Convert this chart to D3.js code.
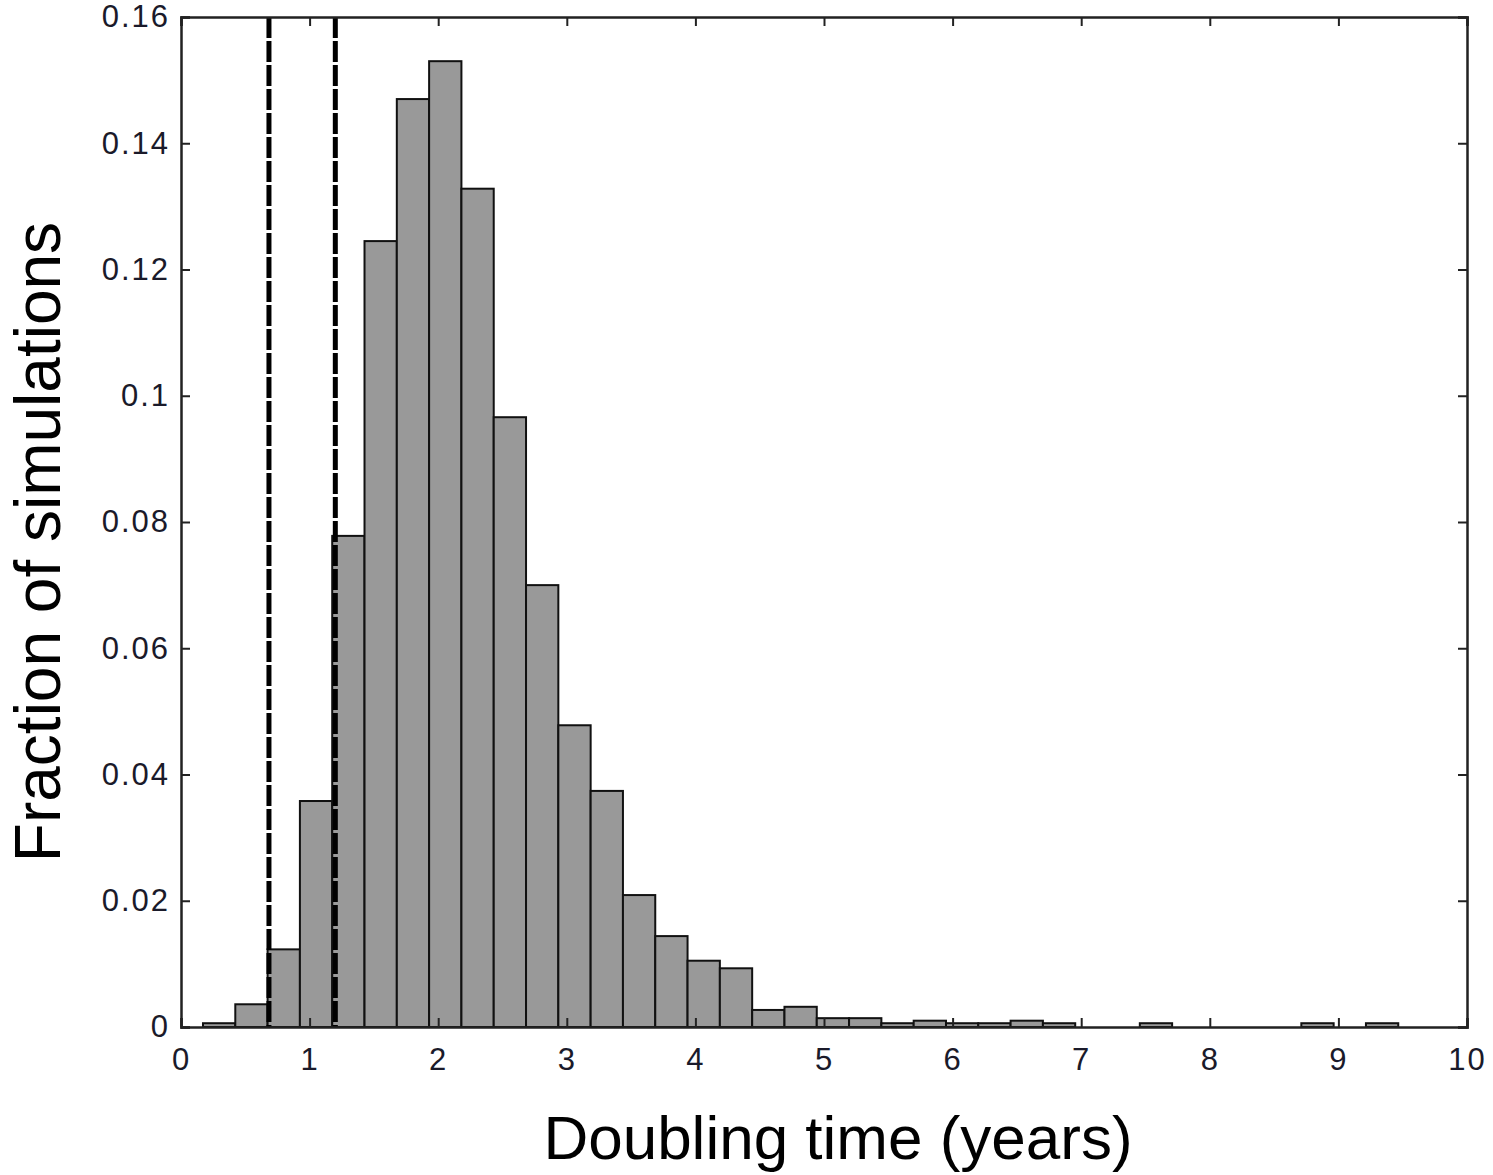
<!DOCTYPE html>
<html>
<head>
<meta charset="utf-8">
<script src="https://cdn.jsdelivr.net/npm/d3@7"></script>
<style>
body { margin: 0; background: #fff; }
svg { display: block; }
</style>
</head>
<body>
<div id="chart"></div>
<script>
// histogram of doubling times
var binStart = 0.171;
var binWidth = 0.2512;
var fractions = [0.0006, 0.0036, 0.0123, 0.0358, 0.0778, 0.1245, 0.147, 0.153,
    0.1328, 0.0966, 0.070, 0.0478, 0.0374, 0.0209, 0.0144, 0.0105, 0.0093,
    0.0027, 0.0032, 0.0014, 0.0014, 0.0006, 0.0010, 0.0006, 0.0006, 0.0010,
    0.0006, 0, 0, 0.0006, 0, 0, 0, 0, 0.0006, 0, 0.0006];
var markerLines = [0.684, 1.20];
var xTicks = [0, 1, 2, 3, 4, 5, 6, 7, 8, 9, 10];
var yTicks = [0, 0.02, 0.04, 0.06, 0.08, 0.1, 0.12, 0.14, 0.16];

var w = 1493, h = 1175;
var m = {left: 181, top: 17, right: 26, bottom: 148};

var svg = d3.select("#chart")
    .append("svg")
        .attr("width", w)
        .attr("height", h);

var x = d3.scaleLinear().domain([0, 10]).range([m.left, w - m.right]);
var y = d3.scaleLinear().domain([0, 0.16]).range([h - m.bottom, m.top]);

var bins = fractions.map(function(v, i){
    return {x0: binStart + i * binWidth, x1: binStart + (i + 1) * binWidth, v: v};
}).filter(function(d){ return d.v > 0; });

svg.selectAll("rect.bar")
    .data(bins)
    .enter()
    .append("rect")
    .attr("class", "bar")
    .attr("x", function(d){ return x(d.x0); })
    .attr("width", function(d){ return x(d.x1) - x(d.x0); })
    .attr("y", function(d){ return y(d.v); })
    .attr("height", function(d){ return y(0) - y(d.v); })
    .attr("fill", "#999999")
    .attr("stroke", "#111")
    .attr("stroke-width", 2);

// dashed reference lines
svg.selectAll("line.mark")
    .data(markerLines)
    .enter()
    .append("line")
    .attr("class", "mark")
    .attr("x1", function(d){ return x(d); })
    .attr("x2", function(d){ return x(d); })
    .attr("y1", y(0.16))
    .attr("y2", y(0))
    .attr("stroke", "#000")
    .attr("stroke-width", 5)
    .attr("stroke-dasharray", "21,3");

// axes with inward ticks on all sides
var tick = 9;
var fmt = function(d){ return d3.format("")(d); };

var gB = svg.append("g").attr("transform", "translate(0," + y(0) + ")")
    .call(d3.axisBottom(x).tickValues(xTicks).tickSize(-tick).tickPadding(21).tickFormat(fmt));
var gT = svg.append("g").attr("transform", "translate(0," + y(0.16) + ")")
    .call(d3.axisTop(x).tickValues(xTicks).tickSize(-tick).tickFormat(""));
var gL = svg.append("g").attr("transform", "translate(" + x(0) + ",0)")
    .call(d3.axisLeft(y).tickValues(yTicks).tickSize(-tick).tickPadding(11).tickFormat(fmt));
var gR = svg.append("g").attr("transform", "translate(" + x(10) + ",0)")
    .call(d3.axisRight(y).tickValues(yTicks).tickSize(-tick).tickFormat(""));

[gB, gT, gL, gR].forEach(function(g){
    g.select(".domain").attr("stroke", "#222").attr("stroke-width", 2.5);
    g.selectAll(".tick line").attr("stroke", "#222").attr("stroke-width", 2);
    g.selectAll(".tick text")
        .attr("fill", "#1a1a2a")
        .style("font-family", "Liberation Sans, Arial, sans-serif")
        .style("font-size", "31px")
        .style("letter-spacing", "2px");
});

svg.append("text")
    .attr("x", 838)
    .attr("y", 1159)
    .attr("text-anchor", "middle")
    .style("font-family", "Liberation Sans, Arial, sans-serif")
    .style("font-size", "62px")
    .attr("fill", "#000")
    .text("Doubling time (years)");

svg.append("text")
    .attr("transform", "translate(60,542) rotate(-90)")
    .attr("text-anchor", "middle")
    .style("font-family", "Liberation Sans, Arial, sans-serif")
    .style("font-size", "64px")
    .attr("fill", "#000")
    .text("Fraction of simulations");
</script>
</body>
</html>
